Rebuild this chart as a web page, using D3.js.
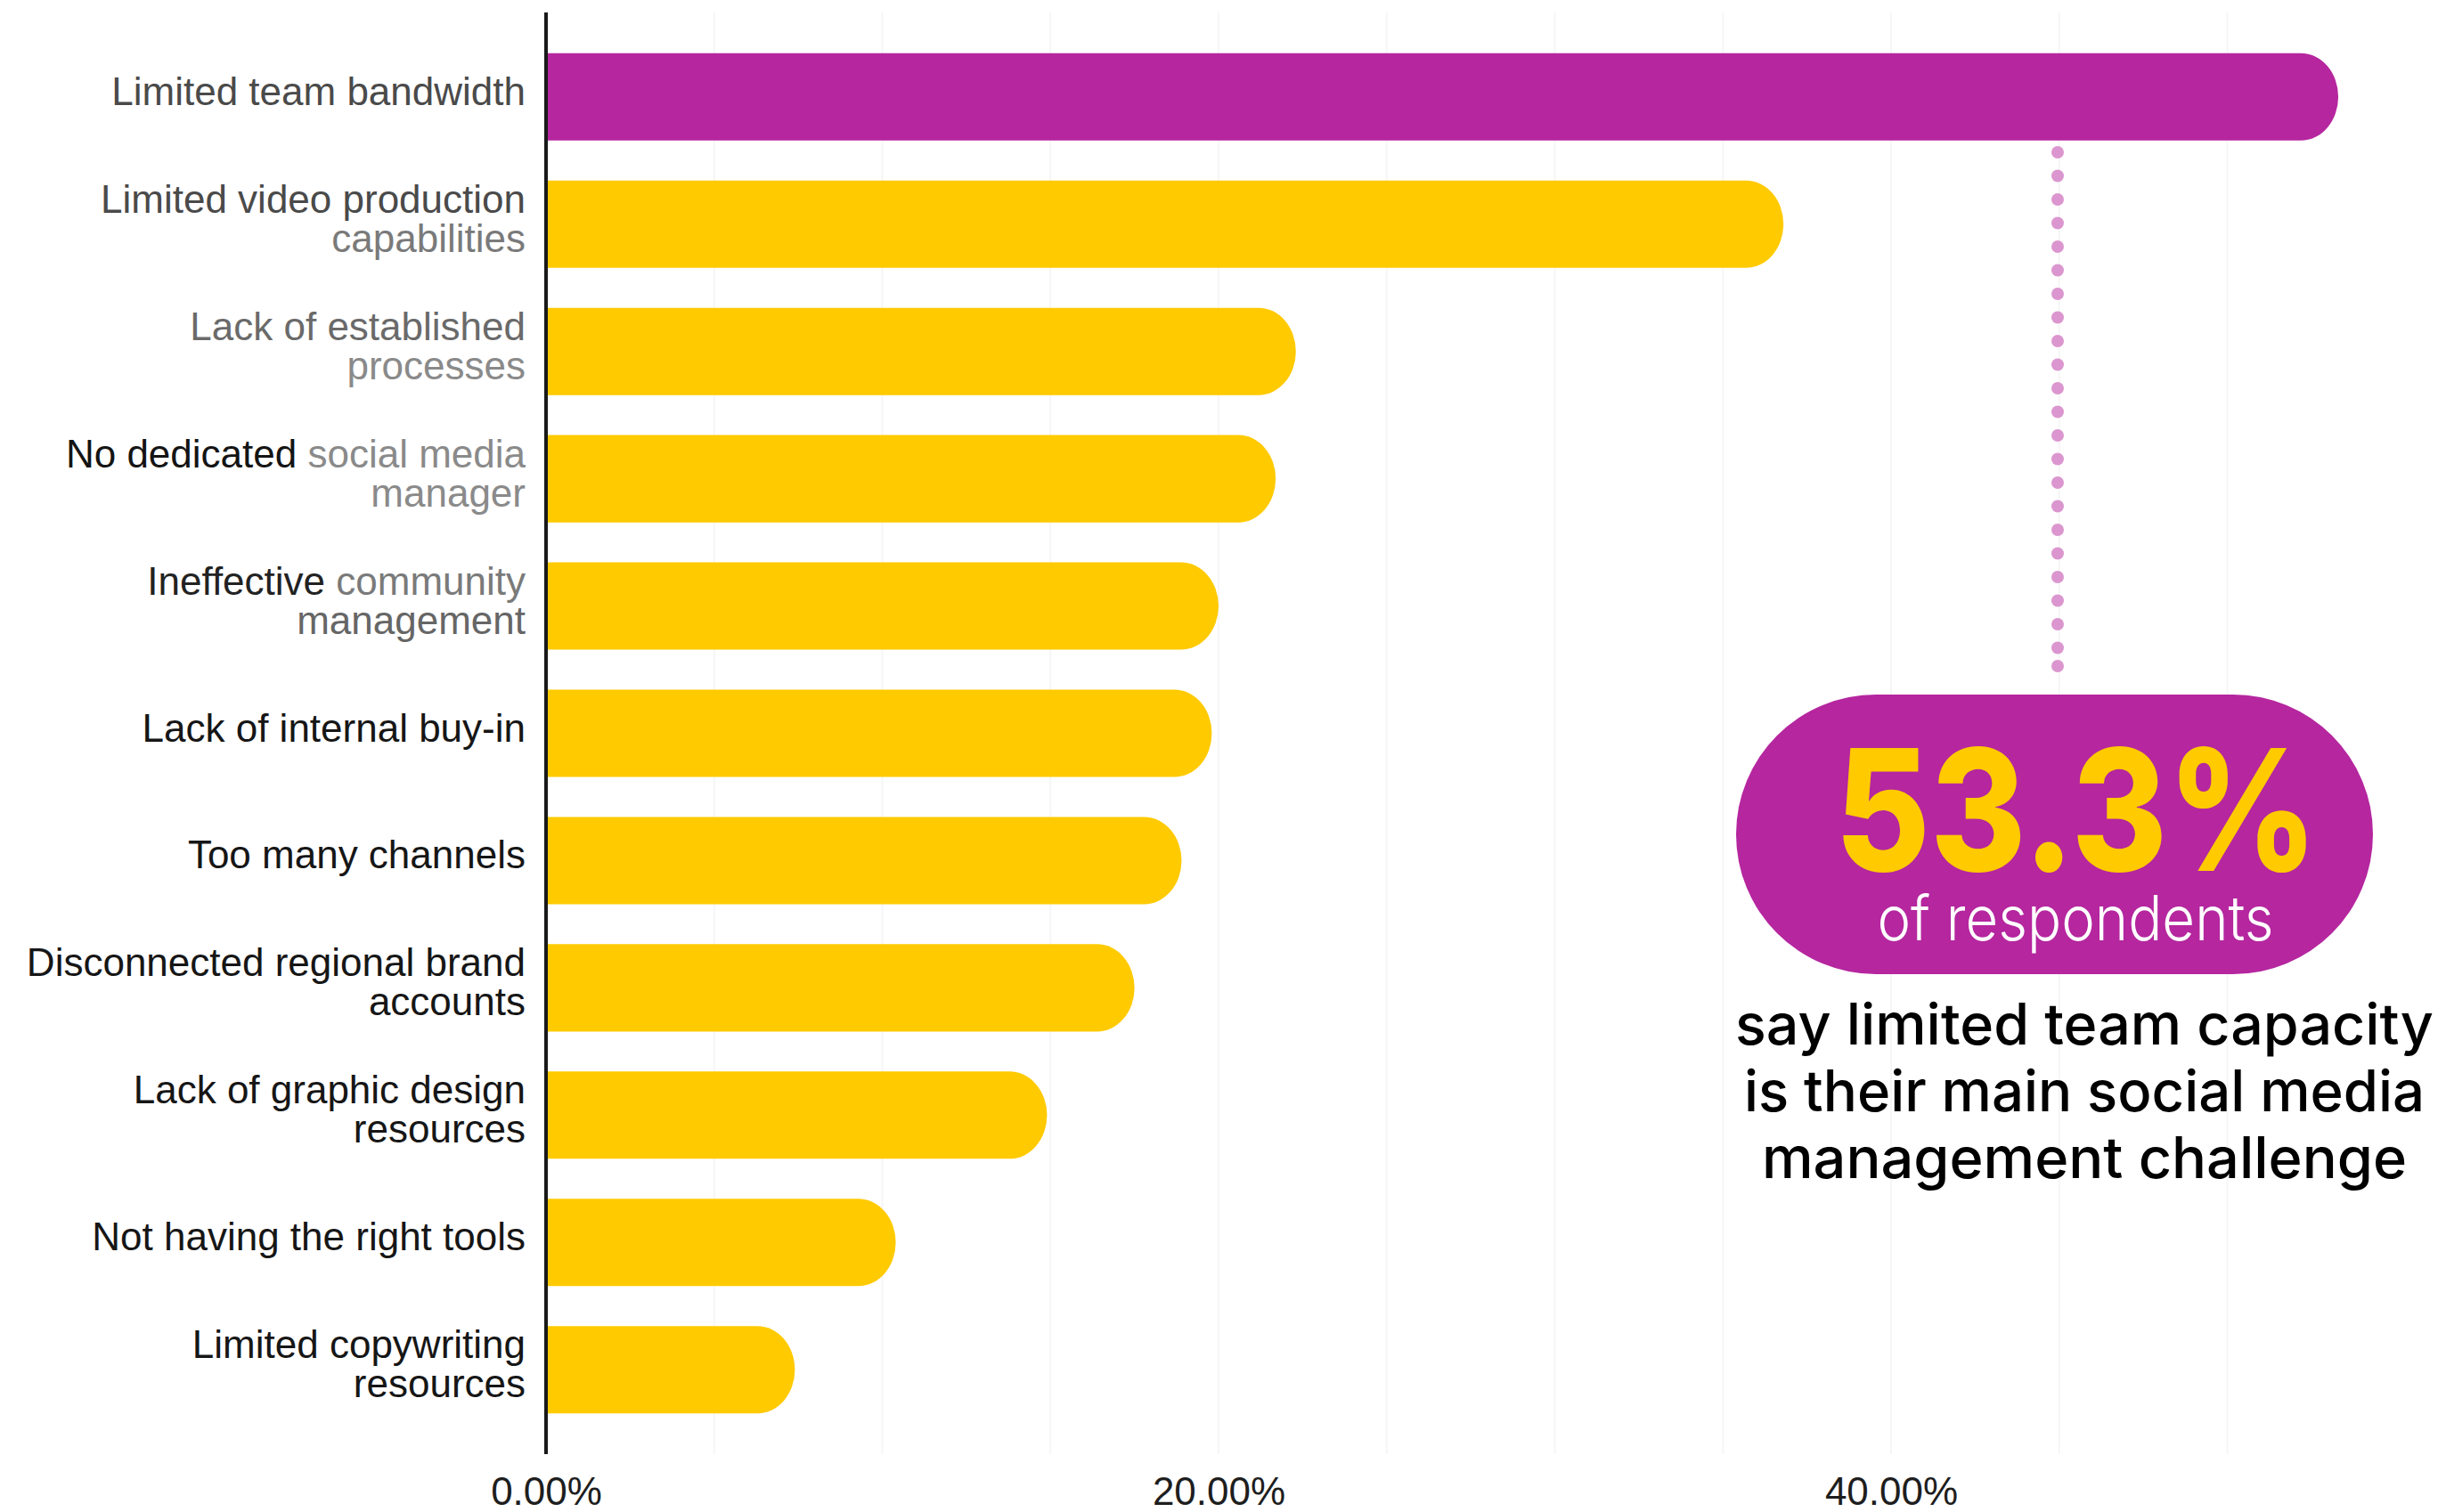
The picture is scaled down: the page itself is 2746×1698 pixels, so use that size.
<!DOCTYPE html>
<html>
<head>
<meta charset="utf-8">
<script src="https://cdn.jsdelivr.net/npm/d3@7"></script>
<style>
  html, body { margin: 0; padding: 0; background: #ffffff; }
  svg { display: block; }
</style>
</head>
<body>
<svg id="chart" width="2746" height="1698"></svg>
<script>
// ---------- data ----------
const categories = [
  "Limited team bandwidth",
  "Limited video production\ncapabilities",
  "Lack of established\nprocesses",
  "No dedicated social media\nmanager",
  "Ineffective community\nmanagement",
  "Lack of internal buy-in",
  "Too many channels",
  "Disconnected regional brand\naccounts",
  "Lack of graphic design\nresources",
  "Not having the right tools",
  "Limited copywriting\nresources"
];
const values = [53.3, 36.8, 22.3, 21.7, 20.0, 19.8, 18.9, 17.5, 14.9, 10.4, 7.4];
const tickValues = [0, 20, 40];
const gridValues = [5, 10, 15, 20, 25, 30, 35, 40, 45, 50];
const highlightValue = "53.3%";
const highlightSub = "of respondents";
const noteLines = ["say limited team capacity", "is their main social media", "management challenge"];

// ---------- styles ----------
const PURPLE = "#b5269f";
const YELLOW = "#ffca00";
const DOT = "#db96cf";
const labelFont = "'Liberation Sans', Arial, Helvetica, sans-serif";
const calloutFont = "Inter, 'Noto Sans', sans-serif";
// colour of label text segments (reproduces the uneven greys of the original)
const lineStyles = {
  "Limited team bandwidth": [["Limited team bandwidth", "#4a4a4a"]],
  "Limited video production": [["Limited video production", "#4a4a4a"]],
  "capabilities": [["capabilities", "#7a7a7a"]],
  "Lack of established": [["Lack of established", "#6a6a6a"]],
  "processes": [["processes", "#8a8a8a"]],
  "No dedicated social media": [["No dedicated ", "#141414"], ["social media", "#8a8a8a"]],
  "manager": [["manager", "#8a8a8a"]],
  "Ineffective community": [["Ineffective ", "#222"], ["community", "#7a7a7a"]],
  "management": [["management", "#666"]]
};

const svg = d3.select("#chart");

const x = d3.scaleLinear().domain([0, 50]).range([613, 613 + 50 * 37.75]);
const y = d3.scaleBand().domain(categories).range([14, 1633]).paddingInner(0.314).paddingOuter(0.32);

// faint gridlines
svg.append("g").selectAll("line").data(gridValues).join("line")
  .attr("x1", d => x(d)).attr("x2", d => x(d))
  .attr("y1", 14).attr("y2", 1633)
  .attr("stroke", "#f6f6f6").attr("stroke-width", 2);

// bars: square left, rounded right
const rx = 42;
svg.append("g").selectAll("path").data(categories).join("path")
  .attr("d", (c, i) => {
    const x0 = x(0), x1 = x(values[i]), y0 = y(c), h = y.bandwidth(), ry = h / 2;
    return `M${x0},${y0} H${x1 - rx} A${rx},${ry} 0 0 1 ${x1},${y0 + ry} A${rx},${ry} 0 0 1 ${x1 - rx},${y0 + h} H${x0} Z`;
  })
  .attr("fill", (c, i) => i === 0 ? PURPLE : YELLOW);

// axis line (y)
svg.append("line")
  .attr("x1", x(0)).attr("x2", x(0)).attr("y1", 14).attr("y2", 1633)
  .attr("stroke", "#1a1a1a").attr("stroke-width", 4);

// category labels
const labels = svg.append("g").attr("font-family", labelFont).attr("font-size", 44).attr("text-anchor", "end");
categories.forEach(c => {
  const lines = c.split("\n");
  const cy = y(c) + y.bandwidth() / 2;
  const first = cy - (lines.length - 1) * 22 + 9;
  const t = labels.append("text").attr("x", 590).attr("y", first);
  lines.forEach((ln, k) => {
    const segs = lineStyles[ln] || [[ln, "#161616"]];
    segs.forEach((s, j) => {
      const ts = t.append("tspan").attr("fill", s[1]).text(s[0]);
      if (j === 0) ts.attr("x", 590).attr("dy", k === 0 ? 0 : 44);
    });
  });
});

// x axis ticks
const xAxis = d3.axisBottom(x).tickValues(tickValues).tickSize(0).tickPadding(0)
  .tickFormat(d => d.toFixed(2) + "%");
const gx = svg.append("g").attr("transform", "translate(0,1650)").call(xAxis);
gx.select(".domain").remove();
gx.selectAll("text").attr("font-family", labelFont).attr("font-size", 44)
  .attr("fill", "#1e1e1e").attr("dy", "0.9em");

// dotted leader
const dotY = d3.range(0, 22).map(i => 171 + i * 26.5).concat([748]);
svg.append("g").selectAll("circle").data(dotY).join("circle")
  .attr("cx", 2310).attr("cy", d => d).attr("r", 7).attr("fill", DOT);

// callout pill
svg.append("rect").attr("x", 1949).attr("y", 780).attr("width", 715).attr("height", 314)
  .attr("rx", 157).attr("ry", 157).attr("fill", PURPLE);

svg.append("text").attr("x", 2331).attr("y", 978).attr("text-anchor", "middle")
  .attr("font-family", calloutFont).attr("font-weight", 800).attr("font-size", 190)
  .attr("fill", YELLOW).attr("textLength", 542).attr("lengthAdjust", "spacingAndGlyphs")
  .text(highlightValue);

svg.append("text").attr("x", 2330).attr("y", 1056).attr("text-anchor", "middle")
  .attr("font-family", calloutFont).attr("font-weight", 300).attr("font-size", 70)
  .attr("fill", "#ffffff").attr("textLength", 445).attr("lengthAdjust", "spacingAndGlyphs")
  .text(highlightSub);

const noteLens = [784, 764, 724];
noteLines.forEach((ln, i) => {
  svg.append("text").attr("x", 2340).attr("y", 1173 + i * 75).attr("text-anchor", "middle")
    .attr("font-family", calloutFont).attr("font-weight", 500).attr("font-size", 64)
    .attr("fill", "#000").attr("textLength", noteLens[i]).attr("lengthAdjust", "spacingAndGlyphs")
    .text(ln);
});
</script>
</body>
</html>
